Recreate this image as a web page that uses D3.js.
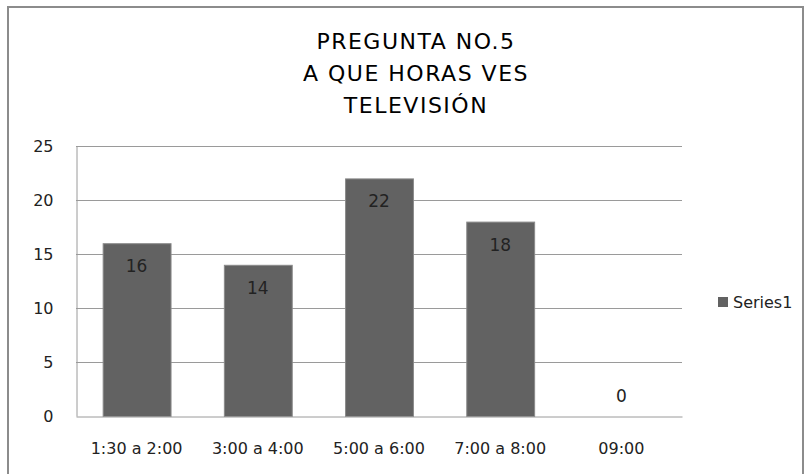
<!DOCTYPE html>
<html>
<head>
<meta charset="utf-8">
<script src="https://cdn.jsdelivr.net/npm/d3@7"></script>
<style>
  html, body { margin: 0; padding: 0; background: #fff; }
  svg { display: block; }
</style>
</head>
<body>
<svg id="chart" width="810" height="474"></svg>
<script>
const titleLines = ["PREGUNTA NO.5", "A QUE HORAS VES", "TELEVISIÓN"];
const categories = ["1:30 a 2:00", "3:00 a 4:00", "5:00 a 6:00", "7:00 a 8:00", "09:00"];
const values = [16, 14, 22, 18, 0];
const seriesName = "Series1";
const yTicks = [0, 5, 10, 15, 20, 25];

const svg = d3.select("#chart");
const W = 810, H = 474;
const plot = { left: 76, right: 682, top: 146, bottom: 416 };

svg.append("rect").attr("width", W).attr("height", H).attr("fill", "#fff");
// outer frame
svg.append("rect")
  .attr("x", 8).attr("y", 7).attr("width", 795).attr("height", 480)
  .attr("fill", "none").attr("stroke", "#8c8c8c").attr("stroke-width", 2);

// title
const title = svg.append("text")
  .attr("text-anchor", "middle")
  .attr("font-family", "'DejaVu Sans', sans-serif")
  .attr("font-size", 22)
  .attr("letter-spacing", 1.5)
  .attr("fill", "#000");
titleLines.forEach((t, i) => {
  title.append("tspan").attr("x", 416).attr("y", 48.5 + i * 32.3).text(t);
});

const x = d3.scaleBand().domain(categories).range([plot.left, plot.right])
  .paddingInner(0.44).paddingOuter(0.22);
const y = d3.scaleLinear().domain([0, 25]).range([plot.bottom, plot.top]);

// gridlines
svg.append("g").selectAll("line").data(yTicks.filter(d => d > 0)).join("line")
  .attr("x1", plot.left).attr("x2", plot.right)
  .attr("y1", d => Math.round(y(d)) + 0.5).attr("y2", d => Math.round(y(d)) + 0.5)
  .attr("stroke", "#9a9a9a").attr("stroke-width", 1);

// y axis
const yAxis = svg.append("g")
  .attr("transform", `translate(${plot.left + 0.5},0)`)
  .call(d3.axisLeft(y).tickValues(yTicks).tickSize(0).tickPadding(23));
yAxis.select(".domain").attr("stroke", "#9a9a9a");
yAxis.selectAll("text")
  .attr("font-family", "'DejaVu Sans', sans-serif")
  .attr("font-size", 16).attr("fill", "#222");

// bars
svg.append("g").selectAll("rect").data(values).join("rect")
  .attr("x", (d, i) => x(categories[i]) + 0.5)
  .attr("y", d => y(d) + 0.5)
  .attr("width", x.bandwidth())
  .attr("height", d => Math.max(0, y(0) - y(d)))
  .attr("fill", "#626262")
  .attr("stroke", d => d > 0 ? "#8a8a8a" : "none")
  .attr("stroke-width", 1);

// x axis
const xAxis = svg.append("g")
  .attr("transform", `translate(0,${plot.bottom + 0.5})`)
  .call(d3.axisBottom(x).tickSize(0).tickPadding(26));
xAxis.select(".domain").attr("stroke", "#9a9a9a");
xAxis.selectAll("text")
  .attr("font-family", "'DejaVu Sans', sans-serif")
  .attr("font-size", 16).attr("fill", "#222");

// data labels
svg.append("g").selectAll("text").data(values).join("text")
  .attr("x", (d, i) => x(categories[i]) + x.bandwidth() / 2)
  .attr("y", d => d > 0 ? y(d) + 29 : y(d) - 14)
  .attr("text-anchor", "middle")
  .attr("font-family", "'DejaVu Sans', sans-serif")
  .attr("font-size", 17).attr("fill", "#222")
  .text(d => d);

// legend
svg.append("rect").attr("x", 718).attr("y", 297).attr("width", 10).attr("height", 10)
  .attr("fill", "#626262");
svg.append("text").attr("x", 733).attr("y", 308)
  .attr("font-family", "'DejaVu Sans', sans-serif")
  .attr("font-size", 16).attr("fill", "#222")
  .text(seriesName);
</script>
</body>
</html>
